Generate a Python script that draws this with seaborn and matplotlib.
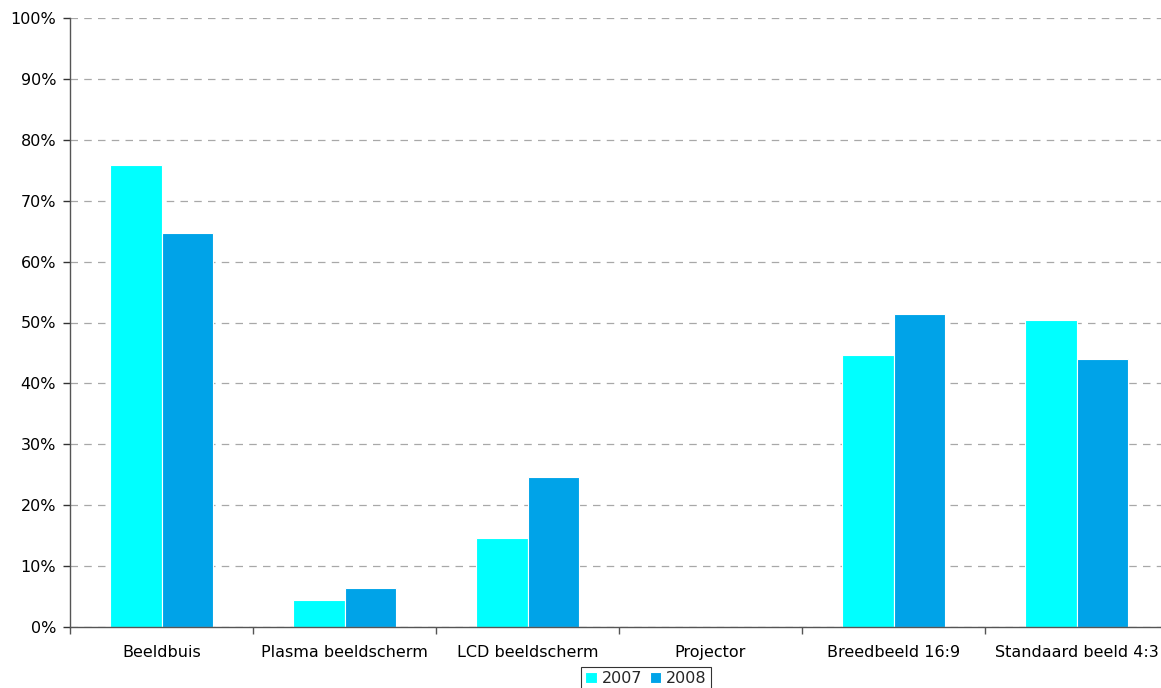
import numpy as np
import pandas as pd
import matplotlib
matplotlib.use("Agg")
import matplotlib.pyplot as plt
import seaborn as sns
from matplotlib.ticker import PercentFormatter, FixedLocator

categories = ["Beeldbuis", "Plasma beeldscherm", "LCD beeldscherm", "Projector",
              "Breedbeeld 16:9", "Standaard beeld 4:3"]
years = ["2007", "2008"]
share_2007 = [75.9, 4.4, 14.6, 0.0, 44.7, 50.4]
share_2008 = [64.7, 6.4, 24.6, 0.0, 51.4, 44.0]
colors = {"2007": "#00FFFF", "2008": "#00A3E8"}

df = pd.DataFrame({
    "category": categories * 2,
    "year": ["2007"] * len(categories) + ["2008"] * len(categories),
    "share": share_2007 + share_2008,
})

sns.set_theme(style="white")
plt.rcParams["font.family"] = ["DejaVu Sans"]

fig = plt.figure(figsize=(11.61, 6.88), dpi=100)
ax = fig.add_axes([70 / 1161, 61 / 688, 1098 / 1161, 609 / 688])

sns.barplot(data=df, x="category", y="share", hue="year", order=categories,
            hue_order=years, palette=colors, width=0.56, gap=0,
            edgecolor="white", linewidth=0.8, saturation=1, ax=ax)

ax.set_ylim(0, 100)
ax.set_xlim(-0.5, len(categories) - 0.5)
ax.yaxis.set_major_locator(FixedLocator(np.arange(0, 101, 10)))
ax.yaxis.set_major_formatter(PercentFormatter(decimals=0))
ax.grid(axis="y", color="#a8a8a8", linestyle=(0, (6, 5)), linewidth=0.9)
ax.set_axisbelow(True)

for s in ["top", "right"]:
    ax.spines[s].set_visible(False)
for s in ["left", "bottom"]:
    ax.spines[s].set_color("#555555")
    ax.spines[s].set_linewidth(1.0)

ax.set_xlabel("")
ax.set_ylabel("")
ax.tick_params(axis="y", which="major", direction="out", length=5, width=1,
               color="#333333", labelsize=11.5, labelcolor="black", pad=5, left=True)
ax.tick_params(axis="x", which="major", length=0, labelsize=11.5, pad=13, labelcolor="black")
ax.set_xticks(np.arange(-0.5, len(categories), 1), minor=True)
ax.tick_params(axis="x", which="minor", direction="out", length=5, width=1,
               color="#555555", bottom=True)

ax.legend_.remove()
handles, labels = ax.get_legend_handles_labels()
leg = fig.legend(handles, labels, loc="upper center", bbox_to_anchor=(646 / 1161, 21 / 688),
                 ncol=2, frameon=True, fancybox=False, edgecolor="black", fontsize=11.5,
                 handlelength=0.7, handleheight=0.7, handletextpad=0.3,
                 columnspacing=0.5, borderpad=0.25, borderaxespad=0)
leg.get_frame().set_linewidth(0.8)

fig.savefig("out.png", dpi=100)
